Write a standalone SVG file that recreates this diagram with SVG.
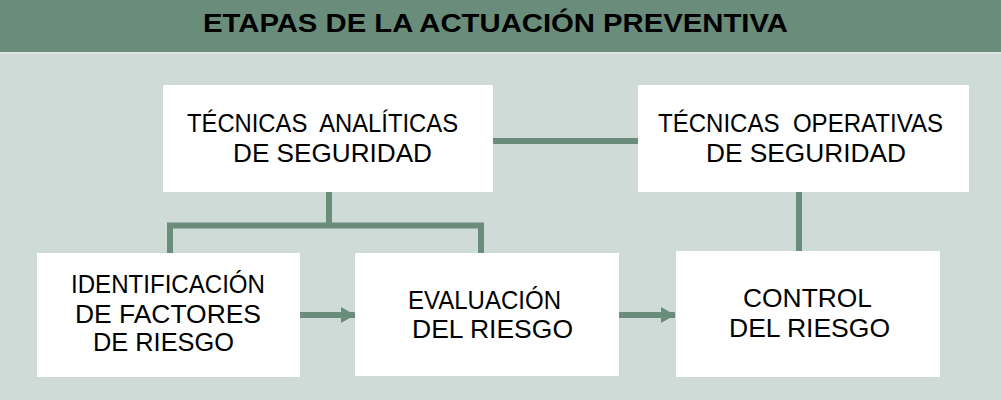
<svg xmlns="http://www.w3.org/2000/svg" width="1001" height="400" viewBox="0 0 1001 400">
  <style>
    .box { fill: #ffffff; }
    .lbl { font-family: "Liberation Sans", Arial, sans-serif; font-size: 26px; fill: #000000; }
    .lbl25 { font-family: "Liberation Sans", Arial, sans-serif; font-size: 25px; fill: #000000; }
    .title { font-family: "Liberation Sans", Arial, sans-serif; font-size: 26px; font-weight: bold; fill: #000000; }
    .conn { stroke: #6a8c7a; stroke-width: 6; fill: none; }
  </style>
  <defs>
    <marker id="arrow" markerUnits="userSpaceOnUse" markerWidth="16" markerHeight="18" refX="14" refY="8" orient="auto">
      <path d="M0,0 L14,8 L0,16 Z" fill="#6a8c7a"/>
    </marker>
  </defs>
  <rect x="0" y="0" width="1001" height="400" fill="#cedbd6"/>
  <g id="header">
    <rect x="0" y="0" width="1001" height="52" fill="#6a8c7a"/>
    <rect x="0" y="52" width="1001" height="2" fill="#dde6e2"/>
    <text class="title" x="203" y="32" textLength="585" lengthAdjust="spacingAndGlyphs">ETAPAS DE LA ACTUACIÓN PREVENTIVA</text>
  </g>
  <g id="connectors">
    <line class="conn" x1="493" y1="141" x2="638" y2="141"/>
    <polyline class="conn" points="329,192 329,225.5"/>
    <polyline class="conn" points="170,253 170,225.5 481,225.5 481,253"/>
    <line class="conn" x1="799" y1="192" x2="799" y2="251"/>
    <line class="conn" x1="300" y1="315" x2="355" y2="315" marker-end="url(#arrow)"/>
    <line class="conn" x1="619" y1="315" x2="675" y2="315" marker-end="url(#arrow)"/>
  </g>
  <g id="tecnicas-analiticas">
    <rect class="box" x="163" y="85" width="330" height="107"/>
    <text class="lbl" x="187" y="132" textLength="271" lengthAdjust="spacingAndGlyphs" xml:space="preserve">TÉCNICAS  ANALÍTICAS</text>
    <text class="lbl" x="233" y="162" textLength="199" lengthAdjust="spacingAndGlyphs">DE SEGURIDAD</text>
  </g>
  <g id="tecnicas-operativas">
    <rect class="box" x="638" y="85" width="331" height="107"/>
    <text class="lbl" x="658" y="132" textLength="285" lengthAdjust="spacingAndGlyphs" xml:space="preserve">TÉCNICAS  OPERATIVAS</text>
    <text class="lbl" x="706" y="162" textLength="200" lengthAdjust="spacingAndGlyphs">DE SEGURIDAD</text>
  </g>
  <g id="identificacion">
    <rect class="box" x="37" y="253" width="263" height="124"/>
    <text class="lbl" x="71" y="293" textLength="194" lengthAdjust="spacingAndGlyphs">IDENTIFICACIÓN</text>
    <text class="lbl" x="75" y="323" textLength="186" lengthAdjust="spacingAndGlyphs">DE FACTORES</text>
    <text class="lbl" x="93" y="351" textLength="141" lengthAdjust="spacingAndGlyphs">DE RIESGO</text>
  </g>
  <g id="evaluacion">
    <rect class="box" x="355" y="253" width="264" height="123"/>
    <text class="lbl25" x="408" y="309" textLength="153" lengthAdjust="spacingAndGlyphs">EVALUACIÓN</text>
    <text class="lbl25" x="412" y="338" textLength="161" lengthAdjust="spacingAndGlyphs">DEL RIESGO</text>
  </g>
  <g id="control">
    <rect class="box" x="676" y="251" width="264" height="126"/>
    <text class="lbl" x="743" y="307" textLength="129" lengthAdjust="spacingAndGlyphs">CONTROL</text>
    <text class="lbl" x="729" y="337" textLength="161" lengthAdjust="spacingAndGlyphs">DEL RIESGO</text>
  </g>
</svg>
